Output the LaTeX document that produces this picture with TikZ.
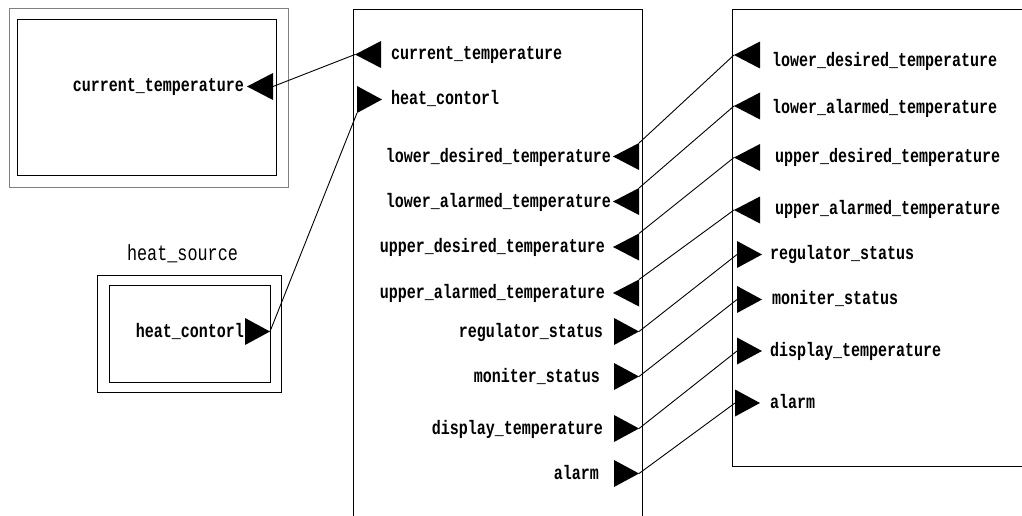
\documentclass[tikz,border=0pt]{standalone}
\usepackage{fontspec}
\usepackage{graphicx}
\setmonofont{Liberation Mono}
% taller monospace lettering
\newcommand{\tall}[1]{\scalebox{1}[1.3]{#1}}
\begin{document}
\begin{tikzpicture}[x=1pt,y=-1pt,
  wire/.style={line width=0.9pt,black},
  frame/.style={line width=0.9pt,black},
  lbl/.style={inner sep=0pt,font=\ttfamily\bfseries\fontsize{15}{18}\selectfont},
  ttl/.style={inner sep=0pt,font=\ttfamily\fontsize{16.8}{20}\selectfont},
  % port pointing left: origin at the tip
  portL/.pic={
    \fill (0,0) -- (26,-13.5) -- (26,13.5) -- cycle;
    \coordinate (-tip) at (0,0);
    \coordinate (-base) at (26,0);
    \coordinate (-top) at (26,-13.5);
    \coordinate (-bot) at (26,13.5);
  },
  % port pointing right: origin at the middle of the base
  portR/.pic={
    \fill (0,-13.5) -- (25,0) -- (0,13.5) -- cycle;
    \coordinate (-tip) at (25,0);
    \coordinate (-base) at (0,0);
    \coordinate (-top) at (0,-13.5);
    \coordinate (-bot) at (0,13.5);
  }]
\useasboundingbox (0,0) rectangle (1022,516);
\clip (0,0) rectangle (1022,516);

% sensor block
\draw[line width=0.8pt,gray] (9,8) rectangle (288,187);
\draw[frame] (17,19) rectangle (276,175);

% heat source block
\node[ttl,anchor=base] (hstitle) at (182.5,260.5) {\tall{heat\_source}};
\draw[frame] (97,275) rectangle (281,392);
\draw[frame] (109,285) rectangle (270,382);

% controller block (open at the bottom)
\draw[frame] (353,530) -- (353,9) -- (642,9) -- (642,530);

% interface block (open on the right)
\draw[frame] (1030,9) -- (732,9) -- (732,466) -- (1030,466);

% ports
\pic (lc) at (247,86.5) {portL};
\pic (hs) at (245,331.5) {portR};

\pic (mc) at (355,54.5) {portL};
\pic (mh) at (357,99.5) {portR};
\pic (mld) at (613,156.5) {portL};
\pic (mla) at (613,201.5) {portL};
\pic (mud) at (613,247) {portL};
\pic (mua) at (613,293) {portL};
\pic (mrs) at (614,331.5) {portR};
\pic (mms) at (614,376.5) {portR};
\pic (mdt) at (614,428.5) {portR};
\pic (mal) at (614,473.5) {portR};

\pic (rld) at (734,55) {portL};
\pic (rla) at (734,106) {portL};
\pic (rud) at (734,157.5) {portL};
\pic (rua) at (734,210) {portL};
\pic (rrs) at (737,254.5) {portR};
\pic (rms) at (737,299.5) {portR};
\pic (rdt) at (737,351) {portR};
\pic (ral) at (735,403) {portR};

% labels
\node[lbl,anchor=base east] (tlc) at (244,92) {\tall{current\_temperature}};
\node[lbl,anchor=base east] (ths) at (244,337) {\tall{heat\_contorl}};

\node[lbl,anchor=base west] (tmc) at (391,60) {\tall{current\_temperature}};
\node[lbl,anchor=base west] (tmh) at (391,105) {\tall{heat\_contorl}};
\node[lbl,anchor=base east] (tmld) at (611,162.5) {\tall{lower\_desired\_temperature}};
\node[lbl,anchor=base east] (tmla) at (611,207.5) {\tall{lower\_alarmed\_temperature}};
\node[lbl,anchor=base east] (tmud) at (605,252.5) {\tall{upper\_desired\_temperature}};
\node[lbl,anchor=base east] (tmua) at (605,298) {\tall{upper\_alarmed\_temperature}};
\node[lbl,anchor=base east] (tmrs) at (603,337.5) {\tall{regulator\_status}};
\node[lbl,anchor=base east] (tmms) at (600,382.5) {\tall{moniter\_status}};
\node[lbl,anchor=base east] (tmdt) at (603,434) {\tall{display\_temperature}};
\node[lbl,anchor=base east] (tmal) at (599,479) {\tall{alarm}};

\node[lbl,anchor=base west] (trld) at (772,66.5) {\tall{lower\_desired\_temperature}};
\node[lbl,anchor=base west] (trla) at (772,113.5) {\tall{lower\_alarmed\_temperature}};
\node[lbl,anchor=base west] (trud) at (775,162.5) {\tall{upper\_desired\_temperature}};
\node[lbl,anchor=base west] (trua) at (775,214.5) {\tall{upper\_alarmed\_temperature}};
\node[lbl,anchor=base west] (trrs) at (770,259.5) {\tall{regulator\_status}};
\node[lbl,anchor=base west] (trms) at (772,304.5) {\tall{moniter\_status}};
\node[lbl,anchor=base west] (trdt) at (770,356.5) {\tall{display\_temperature}};
\node[lbl,anchor=base west] (tral) at (770,408.5) {\tall{alarm}};

% connections
\draw[wire] (mc-tip) -- (lc-base);
\draw[wire] (hs-tip) -- (mh-bot);
\draw[wire] (mld-top) -- (rld-tip);
\draw[wire] (mla-top) -- (rla-tip);
\draw[wire] (mud-top) -- (rud-tip);
\draw[wire] (mua-top) -- (rua-tip);
\draw[wire] (mrs-tip) -- (rrs-base);
\draw[wire] (mms-tip) -- (rms-base);
\draw[wire] (mdt-tip) -- (rdt-base);
\draw[wire] (mal-tip) -- (ral-base);
\end{tikzpicture}
\end{document}
